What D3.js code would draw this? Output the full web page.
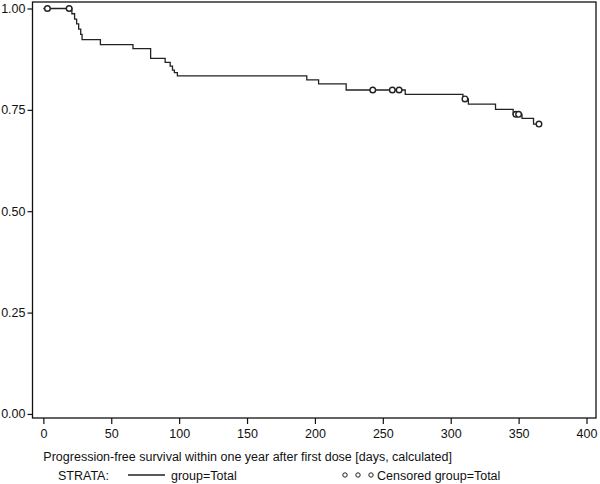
<!DOCTYPE html>
<html>
<head>
<meta charset="utf-8">
<script src="https://cdn.jsdelivr.net/npm/d3@7/dist/d3.min.js"></script>
<style>
    body { margin: 0; background: #fff; }
    svg text { font-family: "Liberation Sans", Arial, sans-serif; fill: #111; }
    .axis path { display: none; }
    .axis line { stroke: #111; stroke-width: 1.2; }
    .axis text { font-size: 12.5px; }
</style>
</head>
<body>
<div id="km"></div>
<script>
// values
const xTicks = [0, 50, 100, 150, 200, 250, 300, 350, 400];
const yTicks = [0, 0.25, 0.5, 0.75, 1];
// event days and survival right after each event
const eventDays = [21, 23, 24.5, 26, 27.5, 28.5, 42, 66, 79, 89.7, 93.4, 95.1, 96.5, 98.7,
                   194, 202.7, 223, 266.5, 309, 313, 333, 346, 352.5, 361];
const survival  = [0.987, 0.974, 0.962, 0.949, 0.936, 0.923, 0.911, 0.901, 0.877, 0.867, 0.858, 0.848, 0.842, 0.834,
                   0.824, 0.814, 0.799, 0.788, 0.777, 0.764, 0.751, 0.739, 0.729, 0.715];
const lastDay = 365;
// censored observations
const censoredDays = [3, 19, 242.6, 257, 262, 310.5, 348, 350, 365];
const censoredSurv = [1, 1, 0.799, 0.799, 0.799, 0.777, 0.739, 0.739, 0.715];

const xLabel = "Progression-free survival within one year after first dose [days, calculated]";

class KmPlot {
    constructor(option) {
        for (let [key, value] of Object.entries(option)) {
            this[key] = value;
        }
        this.creatSvg();
        this.creatAxes();
        this.creatCurve();
        this.creatLegend();
    }
    creatSvg() {
        this.svg = d3.select(this.ele)
            .append('svg')
            .attr('width', this.width)
            .attr('height', this.height);
        // plot box
        this.left = 32.5; this.right = 596; this.top = 2; this.bottom = 418;
        this.x = d3.scaleLinear().domain([-8, 407]).range([this.left, this.right]);
        this.y = d3.scaleLinear().domain([-0.01, 1.016]).range([this.bottom, this.top]);
        this.svg.append('rect')
            .attr('x', this.left).attr('y', this.top)
            .attr('width', this.right - this.left).attr('height', this.bottom - this.top)
            .attr('fill', 'none').attr('stroke', '#111').attr('stroke-width', 1.3);
    }
    creatAxes() {
        let yAxis = d3.axisLeft(this.y).tickValues(yTicks)
            .tickFormat(d3.format('.2f')).tickSize(5).tickSizeOuter(0).tickPadding(2);
        this.svg.append('g').attr('class', 'y axis')
            .attr('transform', `translate(${this.left},0)`)
            .call(yAxis);
        let xAxis = d3.axisBottom(this.x).tickValues(xTicks)
            .tickSize(6).tickSizeOuter(0).tickPadding(5);
        this.svg.append('g').attr('class', 'x axis')
            .attr('transform', `translate(0,${this.bottom})`)
            .call(xAxis);
        this.svg.append('text')
            .attr('x', this.x(0)).attr('y', 461)
            .attr('font-size', '12.5px')
            .text(xLabel);
    }
    creatCurve() {
        let _this = this;
        let pts = [{ t: 0, s: 1 }];
        eventDays.forEach((t, i) => pts.push({ t: t, s: survival[i] }));
        pts.push({ t: lastDay, s: survival[survival.length - 1] });
        let line = d3.line()
            .curve(d3.curveStepAfter)
            .x(function(d) { return _this.x(d.t); })
            .y(function(d) { return _this.y(d.s); });
        this.svg.append('path')
            .attr('d', line(pts))
            .attr('fill', 'none').attr('stroke', '#222').attr('stroke-width', 1.3);
        this.svg.selectAll('.cens')
            .data(censoredDays)
            .enter().append('circle')
            .attr('class', 'cens')
            .attr('cx', function(d) { return _this.x(d); })
            .attr('cy', function(d, i) { return _this.y(censoredSurv[i]); })
            .attr('r', 2.8)
            .attr('fill', '#fff').attr('stroke', '#222').attr('stroke-width', 1.4);
    }
    creatLegend() {
        let g = this.svg.append('g').attr('font-size', '12.5px');
        let ly = 475;
        g.append('text').attr('x', 58).attr('y', ly + 4.5).text('STRATA:');
        g.append('line').attr('x1', 128).attr('x2', 165).attr('y1', ly).attr('y2', ly)
            .attr('stroke', '#222').attr('stroke-width', 1.3);
        g.append('text').attr('x', 171).attr('y', ly + 4.5).text('group=Total');
        g.selectAll('circle').data([345, 358, 371]).enter().append('circle')
            .attr('cx', d => d).attr('cy', ly).attr('r', 2.2)
            .attr('fill', 'none').attr('stroke', '#222').attr('stroke-width', 1);
        g.append('text').attr('x', 377).attr('y', ly + 4.5).text('Censored group=Total');
    }
}

new KmPlot({
    ele: document.getElementById('km'),
    width: 600,
    height: 484
});
</script>
</body>
</html>
